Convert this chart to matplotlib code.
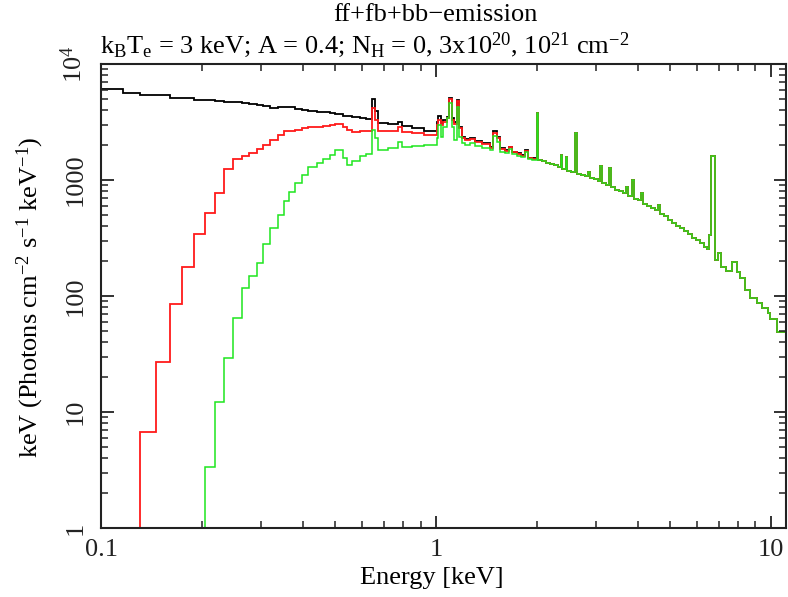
import matplotlib
matplotlib.use('Agg')
import matplotlib.pyplot as plt
from matplotlib.ticker import NullFormatter, LogLocator

plt.rcParams['font.family'] = ['Liberation Serif', 'DejaVu Serif']
plt.rcParams['mathtext.fontset'] = 'custom'
plt.rcParams['mathtext.rm'] = 'Liberation Serif'
plt.rcParams['mathtext.it'] = 'Liberation Serif:italic'
plt.rcParams['mathtext.bf'] = 'Liberation Serif:bold'

# energy bin edges [keV], shared by all three spectra
energy_edges = [
    0.1000, 0.1163, 0.1307, 0.1456, 0.1607, 0.1748, 0.1899, 0.2044, 0.2194, 0.2334,
    0.2482, 0.2630, 0.2772, 0.2916, 0.3055, 0.3206, 0.3376, 0.3518, 0.3653, 0.3794,
    0.3973, 0.4157, 0.4405, 0.4609, 0.4826, 0.4994, 0.5288, 0.5413, 0.5603, 0.5932,
    0.6180, 0.6426, 0.6575, 0.6726, 0.7189, 0.7702, 0.7918, 0.8478, 0.9209, 1.007,
    1.017, 1.033, 1.051, 1.076, 1.093, 1.114, 1.132, 1.153, 1.174, 1.193,
    1.220, 1.263, 1.307, 1.369, 1.449, 1.477, 1.518, 1.552, 1.607, 1.655,
    1.683, 1.741, 1.794, 1.844, 1.886, 1.941,
    1.998, 2.020, 2.072, 2.130, 2.189, 2.250, 2.313, 2.361, 2.386, 2.444,
    2.469, 2.529, 2.609, 2.636, 2.709, 2.785, 2.852, 2.882, 2.962, 3.045,
    3.098, 3.130, 3.217, 3.295, 3.329, 3.422, 3.518, 3.616, 3.704, 3.742,
    3.860, 3.899, 4.009, 4.106, 4.149, 4.264, 4.383, 4.506, 4.615, 4.663,
    4.793, 4.926, 5.064, 5.205, 5.350, 5.499, 5.652, 5.810, 5.972, 6.139,
    6.310, 6.441, 6.553, 6.621, 6.805, 6.962, 7.092, 7.340, 7.633, 7.899,
    8.081, 8.364, 8.656, 9.065, 9.381, 9.815, 9.931, 10.40, 11.16]

# below ~2 keV the three absorption cases differ
nh0_low = [
    6053, 5590, 5406, 5406, 5123, 5123, 4866, 4866, 4798, 4704,
    4658, 4612, 4521, 4433, 4345, 4201, 4285, 4285, 4217, 4094,
    4013, 3934, 3880, 3819, 3781, 3670, 3597, 3562, 3492, 3404,
    3324, 4963, 3958, 3119, 3021, 3181, 2921, 2791, 2645, 3181,
    3562, 3082, 3291, 3513, 5062, 3404, 3181, 4895, 2881, 2334,
    2243, 2288, 2182, 2072, 1914, 2645, 2334, 1876, 1814, 1937,
    1754, 1699, 1642, 1814, 1563, 1539, 3758]

nh3e20_low = [
    0.05, 0.6, 6.76, 26.8, 85.3, 179, 342, 523, 768, 1237,
    1508, 1610, 1699, 1839, 2003, 2212, 2443, 2645, 2671, 2698,
    2791, 2836, 2881, 2921, 2980, 3021, 2881, 2698, 2609, 2619,
    2619, 4151, 3291, 2645, 2671, 2881, 2609, 2542, 2443, 2980,
    3291, 2980, 3181, 3424, 4993, 3291, 3021, 4798, 2791, 2288,
    2212, 2243, 2139, 2044, 1898, 2542, 2288, 1839, 1789, 1914,
    1727, 1675, 1626, 1789, 1548, 1520, 3758]

nh1e21_low = [
    0.0001, 0.001, 0.01, 0.04, 0.12, 0.3, 0.7, 3.38, 12.1, 29.0,
    64.2, 116.5, 149, 194, 279, 384, 499, 659, 793, 937,
    1104, 1302, 1393, 1508, 1642, 1814, 1539, 1347, 1467, 1610,
    1675, 2698, 2288, 1814, 1876, 2139, 1937, 1964, 2003, 2288,
    2980, 2362, 2881, 3404, 4584, 2881, 2212, 4285, 2362, 2072,
    2003, 2072, 1964, 1898, 1814, 2395, 2139, 1754, 1699, 1839,
    1675, 1610, 1588, 1754, 1508, 1487, 3758]

# above ~2 keV absorption is negligible, the spectra coincide
high_part = [
    1502, 1458, 1407, 1368, 1334, 1307, 1642, 1256, 1588, 1207,
    1172, 2557, 1126, 1100, 1072, 1179, 1040, 1010, 980, 1320,
    933, 897, 1262, 862, 828, 799, 773, 871, 728, 1000,
    686, 666, 768, 627, 599, 574, 546, 609, 514, 485,
    456, 430, 405, 382, 360, 339, 319, 301, 284, 267,
    254, 336, 1620, 204, 236, 179, 164, 198, 162, 142,
    112.6, 95.5, 87.5, 78.3, 71.8, 63.0, 48.7]

nh0 = nh0_low + high_part
nh3e20 = nh3e20_low + high_part
nh1e21 = nh1e21_low + high_part

fig = plt.figure(figsize=(7.88, 5.97), dpi=100)
ax = fig.add_axes([101/788, 69/597, 685/788, 464/597])

ax.stairs(nh0, energy_edges, baseline=None, color='black', lw=1.3)
ax.stairs(nh3e20, energy_edges, baseline=None, color='#ff1a1a', lw=1.3)
ax.stairs(nh1e21, energy_edges, baseline=None, color='#1ee61e', lw=1.1)

ax.set_xscale('log')
ax.set_yscale('log')
ax.set_xlim(0.1, 11.1)
ax.set_ylim(1, 1e4)

ax.set_xticks([0.1, 1, 10])
ax.set_xticklabels(['0.1', '1', '10'], fontsize=19)
ax.xaxis.set_minor_locator(LogLocator(base=10, subs=range(2, 10), numticks=20))
ax.xaxis.set_minor_formatter(NullFormatter())
ax.set_yticks([1, 10, 100, 1000, 1e4])
ax.set_yticklabels(['1', '10', '100', '1000', r'10$^4$'], fontsize=19,
                   rotation=90, va='center')
ax.yaxis.set_minor_locator(LogLocator(base=10, subs=range(2, 10), numticks=20))
ax.yaxis.set_minor_formatter(NullFormatter())

ax.tick_params(which='both', direction='in', top=True, right=True, colors='#222222')
ax.tick_params(which='major', length=9, width=1.3)
ax.tick_params(which='minor', length=5, width=1.1)
ax.tick_params(axis='x', which='major', pad=8)
ax.tick_params(axis='y', which='major', pad=10)
for s in ax.spines.values():
    s.set_linewidth(1.5)
    s.set_color('#222222')

fig.text(435/788, 1 - 15/597, 'ff+fb+bb\u2212emission', ha='center', va='center', fontsize=19)
fig.text(100/788, 1 - 45/597,
         r'k$_\mathrm{B}$T$_\mathrm{e}$ = 3 keV; A = 0.4; N$_\mathrm{H}$ = 0, 3x10$^{20}$, 10$^{21}$ cm$^{-2}$',
         ha='left', va='center', fontsize=19)
fig.text(432/788, 1 - 578/597, 'Energy [keV]', ha='center', va='center', fontsize=19)
fig.text(30/788, 1 - 297/597,
         r'keV (Photons cm$^{-2}$ s$^{-1}$ keV$^{-1}$)',
         ha='center', va='center', rotation=90, fontsize=19)

fig.savefig('out.png', dpi=100)
